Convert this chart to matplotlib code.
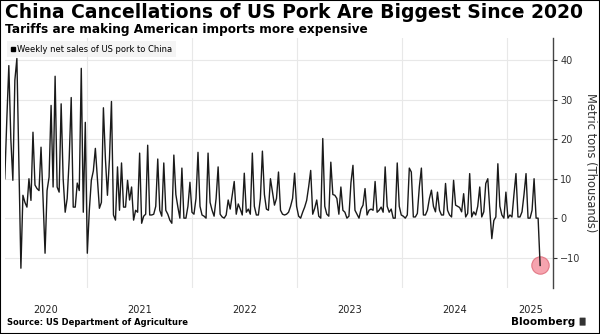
import numpy as np
import pandas as pd
import matplotlib
matplotlib.use("Agg")
import matplotlib.pyplot as plt
from matplotlib.lines import Line2D
from matplotlib.patches import Rectangle, FancyBboxPatch

# weekly net sales of US pork to China, thousand metric tons
start_week = "2020-03-20"
net_sales = [
    10, 25, 38.7, 20, 9.6, 35, 40.5, 14, -12.7, 5.8,
    4, 2.8, 10, 4.5, 21.8, 8.4, 7.5, 7, 18, 5,
    -8.9, 7, 10.4, 28.6, 7.9, 36, 7.9, 6.6, 29, 10,
    1.5, 5, 15, 30.6, 2.8, 2.8, 8.9, 7, 38, 1.5,
    24.3, -8.9, 2, 9.6, 12, 17.7, 10, 2.5, 4, 28,
    15, 5.8, 15, 29.6, 0.8, -0.5, 13, 2, 14, 2.8,
    2.8, 9.6, 4.6, 7.9, -0.5, 2, 1.5, 16.5, -1.3, 0.5,
    1, 18.5, 0.8, 0.8, 1, 3, 15, 2, 0.5, 14,
    2, 1, -0.5, -1.3, 16, 6, 2.8, 0, 12.7, 0,
    0, 3, 9.1, 1.5, 1, 5, 16.7, 3, 0.8, 0.5,
    0, 16.5, 4, 2, 0.5, 5, 13, 1, 0.3, 0,
    0.8, 4.6, 2.3, 5.8, 9.3, 1, 3.6, 2.3, 0.8, 11.4,
    1.5, 2.3, 1, 16.5, 3, 0.8, 0.8, 5, 17, 6,
    2.3, 2, 10, 6.6, 3.3, 5, 11.7, 2, 1, 0.8,
    1, 1.5, 3, 5, 11.4, 3, 0.5, 0, 1.5, 2.8,
    4.5, 8, 12.1, 1, 2.5, 4.6, 0.5, 0, 20.2, 3,
    1, 0.5, 14.2, 6, 5.8, 5, 1, 7.9, 2, 1.5,
    0, 0.5, 9, 13.4, 2, 1, 0, 2.3, 3.3, 7.5,
    0.8, 2, 2.3, 2, 9.3, 1.5, 2, 2.8, 1.5, 13,
    3, 1.5, 2.3, 0, 0, 14, 3, 0.8, 0.5, 0,
    0.8, 12.7, 11.7, 0.3, 0.3, 1.2, 8, 12.7, 0.8, 0.8,
    2, 5, 7.1, 3, 1.6, 6.6, 2, 0.8, 0.8, 8.8,
    2, 0.8, 0.3, 9.6, 3.3, 3, 2.7, 1.6, 6.2, 0.3,
    1.2, 11.3, 0.3, 1.6, 0.8, 3, 7.9, 0.3, 1.6, 8.8,
    10, 2, -5.2, -0.6, 0.3, 13.8, 3, 0.8, 0, 6.6,
    0, 0.8, 0.3, 6, 11.3, 0.3, 0.3, 1.6, 6, 11.3,
    0, 0, 2, 10, 0, 0, -12,
]
y_ticks = [-10, 0, 10, 20, 30, 40]
years = [2020, 2021, 2022, 2023, 2024, 2025]

dates = pd.date_range(start_week, periods=len(net_sales), freq="7D")

fig = plt.figure(figsize=(6, 3.34), dpi=100)
ax = fig.add_axes([0.008, 0.138, 0.914, 0.747])

ax.plot(dates, net_sales, color="#1a1a1a", lw=1.0, zorder=3)
ax.plot(dates[-1], net_sales[-1], "o", ms=12.5, mfc="#f59aa6", mec="#e0707e",
        mew=0.8, alpha=0.9, zorder=2)

x0 = dates[0]
x1 = dates[0] + pd.Timedelta(weeks=272.5)
ax.set_xlim(x0, x1)
ax.set_ylim(-17.7, 45.6)

# year gridlines at Jan 1, year labels centred in the visible part of each year
ax.set_xticks([pd.Timestamp(f"{y}-01-01") for y in years[1:]])
ax.tick_params(axis="x", which="major", length=0, labelbottom=False)
mids = []
for y in years:
    a = max(pd.Timestamp(f"{y}-01-01"), x0)
    b = min(pd.Timestamp(f"{y + 1}-01-01"), x1)
    mids.append(a + (b - a) / 2)
ax.set_xticks(mids, minor=True)
ax.set_xticklabels([str(y) for y in years], minor=True)
ax.tick_params(axis="x", which="minor", length=0, labelsize=7, pad=12,
               colors="#222222")

ax.yaxis.tick_right()
ax.yaxis.set_label_position("right")
ax.set_yticks(y_ticks)
ax.tick_params(axis="y", length=3, width=0.8, labelsize=7, pad=2,
               colors="#333333")
ax.set_ylabel("Metric tons (Thousands)", rotation=270, labelpad=12,
              fontsize=8.3, color="#333333")

ax.grid(True, color="#e8e8e8", lw=0.8)
ax.set_axisbelow(True)
for s in ["left", "top", "bottom"]:
    ax.spines[s].set_visible(False)
ax.spines["right"].set_color("#444444")
ax.spines["right"].set_linewidth(1.0)

handle = Line2D([], [], marker="s", color="black", ls="none", ms=3.5)
leg = ax.legend([handle], ["Weekly net sales of US pork to China"],
                loc="upper left", fontsize=6, frameon=True, fancybox=False,
                handlelength=0.4, handletextpad=0.3, borderpad=0.45,
                borderaxespad=0.3)
leg.get_frame().set_facecolor("#f2f2f2")
leg.get_frame().set_edgecolor("none")

fig.text(0.008, 0.963, "China Cancellations of US Pork Are Biggest Since 2020",
         fontsize=13.5, fontweight="bold", va="center", ha="left")
fig.text(0.008, 0.913, "Tariffs are making American imports more expensive",
         fontsize=8.7, fontweight="bold", va="center", ha="left")
fig.text(0.012, 0.035, "Source: US Department of Agriculture",
         fontsize=6, fontweight="bold", va="center", ha="left")
fig.text(0.958, 0.035, "Bloomberg", fontsize=7.5, fontweight="bold",
         va="center", ha="right")
# small logo mark next to the wordmark
fig.patches.append(FancyBboxPatch((0.967, 0.026), 0.008, 0.022,
                                  boxstyle="round,pad=0.001",
                                  transform=fig.transFigure,
                                  facecolor="#333333", edgecolor="none"))

fig.patches.append(Rectangle((0, 0), 1, 1, transform=fig.transFigure,
                             fill=False, edgecolor="black", lw=1.5))

fig.savefig("out.png", dpi=100)
